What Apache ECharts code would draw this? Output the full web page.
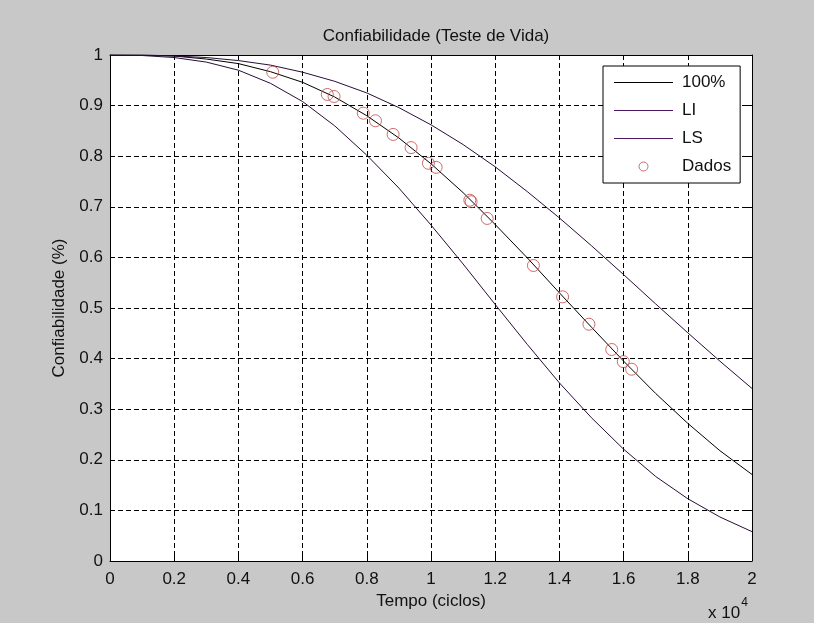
<!DOCTYPE html>
<html>
<head>
<meta charset="utf-8">
<script src="https://cdn.jsdelivr.net/npm/echarts@6/dist/echarts.min.js"></script>
<style>
html,body{margin:0;padding:0;background:#c8c8c8;}
#chart{width:814px;height:623px;}
</style>
</head>
<body>
<div id="chart"></div>
<script>
// Tempo (x 10^4 ciclos)
const tempo = [0,0.1,0.2,0.3,0.4,0.5,0.6,0.7,0.8,0.9,1.0,1.1,1.2,1.3,1.4,1.5,1.6,1.7,1.8,1.9,2.0];
// Curva ajustada (100%)
const curva100 = [1.000,1.000,0.998,0.992,0.983,0.967,0.946,0.917,0.880,0.836,0.785,0.728,0.665,0.599,0.530,0.462,0.395,0.331,0.272,0.218,0.171];
// Limite inferior (LI)
const curvaLI = [1.000,0.999,0.995,0.986,0.970,0.944,0.908,0.860,0.802,0.737,0.664,0.587,0.507,0.428,0.352,0.283,0.221,0.167,0.123,0.087,0.058];
// Limite superior (LS)
const curvaLS = [1.000,1.000,0.998,0.995,0.989,0.980,0.966,0.948,0.925,0.896,0.862,0.823,0.779,0.730,0.678,0.623,0.566,0.508,0.451,0.395,0.341];
// Dados observados
const dadosX = [0.507,0.677,0.698,0.789,0.827,0.882,0.938,0.992,1.016,1.121,1.125,1.175,1.319,1.410,1.492,1.563,1.599,1.625];
const dadosY = [0.966,0.922,0.918,0.885,0.870,0.843,0.817,0.786,0.778,0.713,0.710,0.677,0.584,0.522,0.468,0.418,0.394,0.379];
const seriesNames = ['100%','LI','LS','Dados'];

const FONT = 'Liberation Sans, Arial, sans-serif';
const pair = (xs, ys) => xs.map((x, i) => [x, ys[i]]);
const gridDash = {show:true, lineStyle:{color:'#000', width:1, type:[5,3]}};
const tick = {show:true, inside:true, length:5, lineStyle:{color:'#000', width:1}};
const axLine = {show:true, onZero:false, lineStyle:{color:'#000', width:1}};
const lbl = {color:'#111', fontFamily:FONT, fontSize:17};
const lineIcon = 'path://M0,0L59,0L59,1L0,1Z';

const chart = echarts.init(document.getElementById('chart'), null, {renderer:'canvas'});
chart.setOption({
  backgroundColor:'#c8c8c8',
  animation:false,
  title:{text:'Confiabilidade (Teste de Vida)', left:431, textAlign:'center', top:23,
    textStyle:{fontFamily:FONT, fontSize:17, fontWeight:'normal', color:'#111'}},
  grid:{left:110, top:55, right:62, bottom:62, show:true, backgroundColor:'#fff', borderWidth:0},
  legend:{
    orient:'vertical', left:603, top:66,
    padding:[8,9,8,11],
    backgroundColor:'#fff', borderColor:'#000', borderWidth:1, borderRadius:0,
    itemWidth:59, itemHeight:9, itemGap:11,
    textStyle:{fontFamily:FONT, fontSize:17, color:'#111', padding:[0,0,0,4]},
    data:[
      {name:'100%', icon:lineIcon, itemStyle:{color:'#000'}},
      {name:'LI', icon:lineIcon, itemStyle:{color:'#4a1660'}},
      {name:'LS', icon:lineIcon, itemStyle:{color:'#4a1660'}},
      {name:'Dados', icon:'circle', itemStyle:{color:'transparent', borderColor:'#c04848', borderWidth:1}}
    ]
  },
  xAxis:[
    {type:'value', min:0, max:2, interval:0.2, position:'bottom',
     axisLine:axLine, axisTick:tick, splitLine:gridDash,
     axisLabel:Object.assign({margin:10}, lbl),
     name:'Tempo (ciclos)', nameLocation:'middle', nameGap:30,
     nameTextStyle:{fontFamily:FONT, fontSize:17, color:'#111'}},
    {type:'value', min:0, max:2, interval:0.2, position:'top',
     axisLine:axLine, axisTick:tick, splitLine:{show:false}, axisLabel:{show:false}}
  ],
  yAxis:[
    {type:'value', min:0, max:1, interval:0.1, position:'left',
     axisLine:axLine, axisTick:tick, splitLine:gridDash,
     axisLabel:Object.assign({margin:7}, lbl),
     name:'Confiabilidade (%)', nameLocation:'middle', nameGap:42, nameRotate:90,
     nameTextStyle:{fontFamily:FONT, fontSize:17, color:'#111'}},
    {type:'value', min:0, max:1, interval:0.1, position:'right',
     axisLine:axLine, axisTick:tick, splitLine:{show:false}, axisLabel:{show:false}}
  ],
  graphic:[
    {type:'text', left:708, top:597, style:{
      text:'{a|x 10}{b|4}', rich:{
        a:{fontFamily:FONT, fontSize:17, fill:'#111', padding:[8,0,0,0]},
        b:{fontFamily:FONT, fontSize:12, fill:'#111', verticalAlign:'top', padding:[0,0,0,1]}
      }}}
  ],
  series:[
    {name:seriesNames[0], type:'line', data:pair(tempo, curva100), symbol:'none',
     lineStyle:{color:'#000', width:1}, itemStyle:{color:'#000'}, z:3},
    {name:seriesNames[1], type:'line', data:pair(tempo, curvaLI), symbol:'none',
     lineStyle:{color:'#2a0c38', width:1}, itemStyle:{color:'#2a0c38'}, z:3},
    {name:seriesNames[2], type:'line', data:pair(tempo, curvaLS), symbol:'none',
     lineStyle:{color:'#2a0c38', width:1}, itemStyle:{color:'#2a0c38'}, z:3},
    {name:seriesNames[3], type:'scatter', data:pair(dadosX, dadosY), symbol:'circle', symbolSize:12,
     itemStyle:{color:'transparent', borderColor:'#c04848', borderWidth:1}, z:4}
  ]
});
</script>
</body>
</html>
